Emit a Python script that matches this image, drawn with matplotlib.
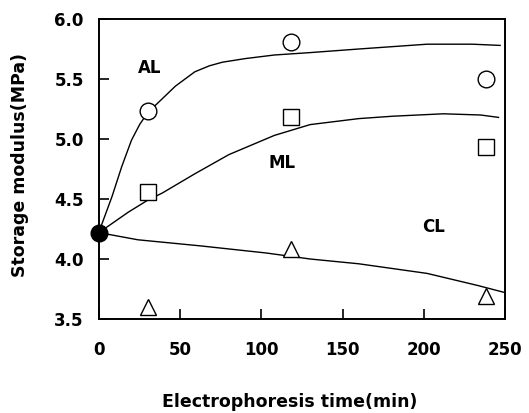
import matplotlib
matplotlib.use("Agg")
import matplotlib.pyplot as plt

plt.rcParams['font.family'] = ['DejaVu Sans']
plt.rcParams['font.weight'] = 'bold'

# measured points
t_pts = [30, 118, 238]
al_pts = [5.23, 5.81, 5.50]
ml_pts = [4.56, 5.18, 4.93]
cl_pts = [3.60, 4.08, 3.69]
t0, y0 = 0, 4.22

# fitted curves
al_t = [0, 2, 8, 14, 20, 25, 30, 37, 47, 59, 68, 76, 90, 108, 130, 160, 202, 230, 247]
al_y = [4.22, 4.30, 4.52, 4.77, 4.99, 5.12, 5.22, 5.31, 5.44, 5.56, 5.61, 5.64, 5.67, 5.70, 5.72, 5.75, 5.79, 5.79, 5.78]
ml_t = [0, 18, 30, 39, 59, 80, 108, 130, 160, 181, 212, 235, 246]
ml_y = [4.22, 4.39, 4.49, 4.55, 4.71, 4.87, 5.03, 5.12, 5.17, 5.19, 5.21, 5.20, 5.18]
cl_t = [0, 24, 62, 103, 130, 160, 202, 233, 250]
cl_y = [4.22, 4.16, 4.11, 4.05, 4.00, 3.96, 3.88, 3.78, 3.72]

xticks = [0, 50, 100, 150, 200, 250]
yticks = [3.5, 4.0, 4.5, 5.0, 5.5, 6.0]

fig = plt.figure(figsize=(5.29, 4.13), dpi=100)
ax = fig.add_axes([99/529, 1-319/413, (505-99)/529, (319-19)/413])

lw = 1.0
ax.plot(al_t, al_y, color='black', lw=lw, zorder=2)
ax.plot(ml_t, ml_y, color='black', lw=lw, zorder=2)
ax.plot(cl_t, cl_y, color='black', lw=lw, zorder=2)

ms = 12
ax.plot(t_pts, al_pts, 'o', ms=ms, mfc='white', mec='black', mew=1.0, zorder=3, clip_on=False)
ax.plot(t_pts, ml_pts, 's', ms=ms-0.5, mfc='white', mec='black', mew=1.0, zorder=3, clip_on=False)
ax.plot(t_pts, cl_pts, '^', ms=ms, mfc='white', mec='black', mew=1.0, zorder=3, clip_on=False)
ax.plot([t0], [y0], 'o', ms=ms, color='black', zorder=4, clip_on=False)

fs = 12
ax.text(31, 5.59, 'AL', fontsize=fs, fontweight='bold', ha='center', va='center')
ax.text(113, 4.80, 'ML', fontsize=fs, fontweight='bold', ha='center', va='center')
ax.text(206, 4.27, 'CL', fontsize=fs, fontweight='bold', ha='center', va='center')

ax.set_xlim(0, 250)
ax.set_ylim(3.5, 6.0)
ax.set_xticks(xticks)
ax.set_yticks(yticks)
ax.set_xticklabels([str(v) for v in xticks], fontsize=fs, fontweight='bold')
ax.set_yticklabels([f'{v:.1f}' for v in yticks], fontsize=fs, fontweight='bold')
ax.tick_params(direction='in', length=7, width=1.2, top=False, right=False)
ax.tick_params(axis='x', pad=16)
ax.tick_params(axis='y', pad=11)
for s in ax.spines.values():
    s.set_linewidth(1.4)

ax.set_xlabel('Electrophoresis time(min)', fontsize=12.5, fontweight='bold')
ax.set_ylabel('Storage modulus(MPa)', fontsize=12.5, fontweight='bold')
ax.xaxis.set_label_coords((290-99)/406, -(402-319)/300, transform=ax.transAxes)
ax.yaxis.set_label_coords(-(99-20)/406, (319-165)/300, transform=ax.transAxes)
ax.xaxis.label.set_va('center')
ax.yaxis.label.set_va('center')

fig.savefig('out.png', dpi=100)
